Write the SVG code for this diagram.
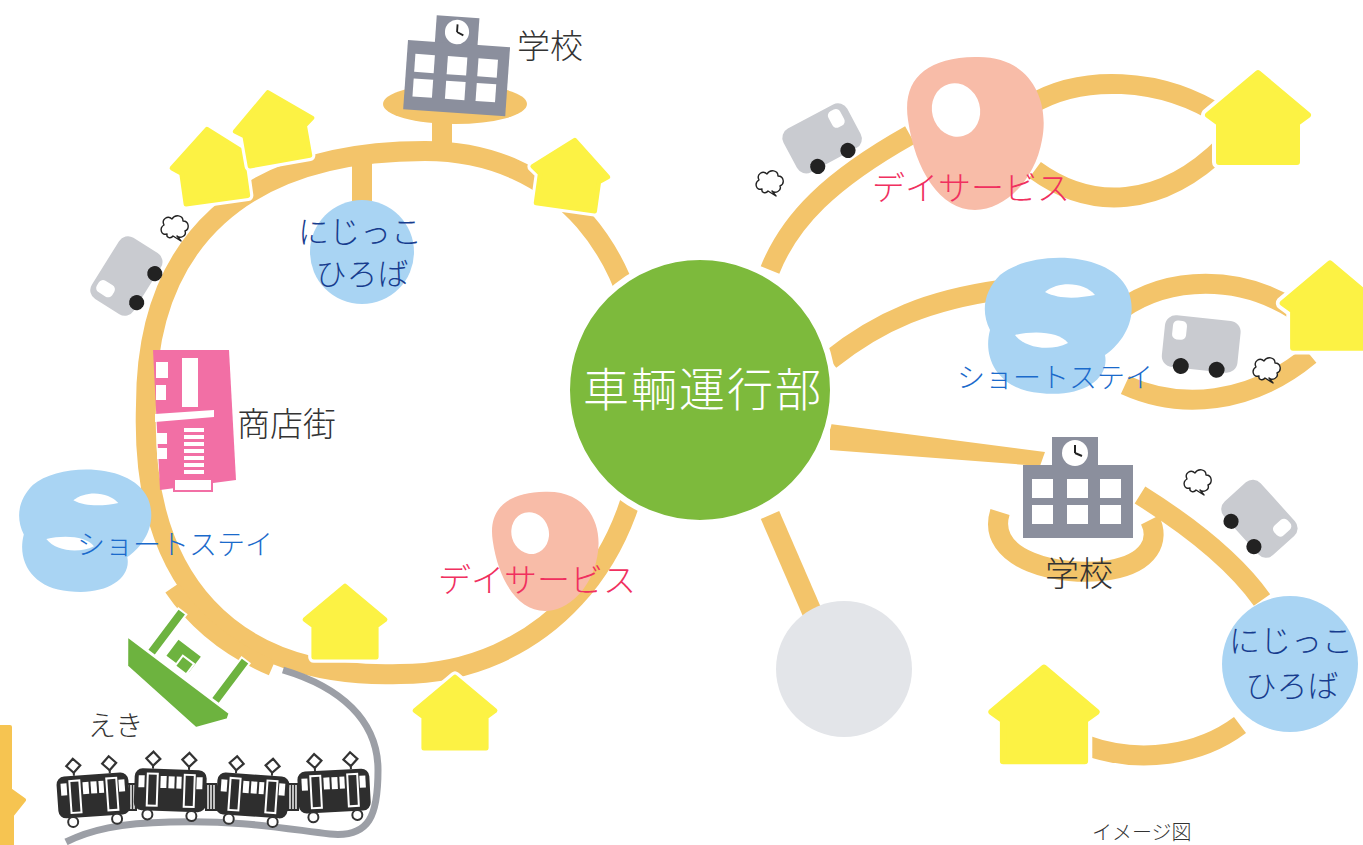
<svg xmlns="http://www.w3.org/2000/svg" width="1363" height="845" viewBox="0 0 1363 845">
<style>
.road{fill:none;stroke:#F3C46A;stroke-width:20}
.hfill{fill:#FCF244;stroke:#FCF244;stroke-width:6;stroke-linejoin:round}
.halo{fill:#fff;stroke:#fff;stroke-width:14;stroke-linejoin:round}
.van{fill:#C9CBD0}
.wheel{fill:#222}
.puff{fill:#fff;stroke:#222;stroke-width:1.4;stroke-linejoin:round}
.bldg{fill:#8B8F9D}
.win{fill:#fff}
.sblob{fill:#A9D4F3}
.pink{fill:#F8BCA8}
.txt{font-family:"Noto Sans CJK JP","Noto Sans",sans-serif;font-weight:300}
.dark{fill:#333}
.navy{fill:#173C8E}
.blue{fill:#1A6ACB}
.red{fill:#F0305F}
</style>
<defs>
  <path id="house-shape" d="M0 -45 L50 -3 L39 5 L39 44 L-39 44 L-39 5 L-50 -3 Z"/>
  <g id="house"><use href="#house-shape" class="halo"/><use href="#house-shape" class="hfill"/></g>
  <g id="van">
    <rect x="-38" y="-28" width="76" height="52" rx="11" class="van"/>
    <rect x="16" y="-23" width="14" height="19" rx="5" fill="#fff"/>
    <circle cx="-18" cy="22" r="8" class="wheel"/>
    <circle cx="18" cy="22" r="8" class="wheel"/>
  </g>
  <path id="puff" class="puff" d="M-8 6 C-14 8 -16 0 -11 -3 C-14 -9 -7 -13 -3 -9 C0 -14 8 -13 8 -7 C14 -7 15 1 10 3 C12 8 5 11 2 8 L6 13 L-2 8 C-4 11 -9 10 -8 6 Z"/>
  <g id="sblob">
    <path class="sblob" d="M-58 -50 C-28 -75 52 -75 70 -35 C82 -5 62 20 47 30 C52 55 22 73 -18 68 C-58 65 -76 35 -68 5 C-78 -15 -73 -35 -58 -50 Z"/>
    <path fill="#fff" d="M-13 -33 C2 -45 27 -42 37 -30 C22 -27 2 -25 -13 -33 Z"/>
    <path fill="#fff" d="M-43 10 C-23 5 2 7 10 18 C-8 27 -33 23 -43 10 Z"/>
  </g>
  <g id="dayblob">
    <path class="pink" d="M0 -76 C55 -78 75 -33 67 7 C60 47 30 77 0 77 C-35 77 -60 37 -67 -13 C-73 -53 -50 -75 0 -76 Z"/>
    <ellipse cx="-19" cy="-23" rx="24" ry="27" transform="rotate(-15 -19 -23)" fill="#fff"/>
  </g>
  <g id="school">
    <rect x="29" y="-28" width="46" height="30" class="bldg"/>
    <rect x="0" y="0" width="110" height="73" class="bldg"/>
    <circle cx="52" cy="-12" r="13" fill="#fff"/>
    <path d="M52 -12 L52 -20 M52 -12 L59 -9" stroke="#222" stroke-width="2" fill="none"/>
    <rect x="9" y="14" width="21" height="19" class="win"/>
    <rect x="44" y="14" width="21" height="19" class="win"/>
    <rect x="77" y="14" width="21" height="19" class="win"/>
    <rect x="9" y="40" width="21" height="19" class="win"/>
    <rect x="44" y="40" width="21" height="19" class="win"/>
    <rect x="77" y="40" width="21" height="19" class="win"/>
  </g>
  <g id="tcar">
    <line x1="18" y1="0" x2="18" y2="-4" stroke="#333" stroke-width="2"/>
    <line x1="54" y1="0" x2="54" y2="-4" stroke="#333" stroke-width="2"/>
    <polygon points="18,-17 25,-10 18,-3 11,-10" fill="#fff" stroke="#333" stroke-width="2.2"/>
    <polygon points="54,-17 61,-10 54,-3 47,-10" fill="#fff" stroke="#333" stroke-width="2.2"/>
    <rect x="0" y="0" width="72" height="42" rx="8" fill="#2E2E2E"/>
    <rect x="4" y="7" width="6" height="12" fill="#fff"/>
    <rect x="26" y="7" width="6" height="12" fill="#fff"/>
    <rect x="34" y="7" width="6" height="12" fill="#fff"/>
    <rect x="42" y="7" width="5" height="12" fill="#fff"/>
    <rect x="62" y="7" width="6" height="12" fill="#fff"/>
    <rect x="13" y="5" width="10" height="32" fill="none" stroke="#fff" stroke-width="2"/>
    <rect x="50" y="5" width="10" height="32" fill="none" stroke="#fff" stroke-width="2"/>
    <circle cx="14" cy="46" r="5" fill="#fff" stroke="#333" stroke-width="2"/>
    <circle cx="58" cy="46" r="5" fill="#fff" stroke="#333" stroke-width="2"/>
  </g>
  <g id="gang">
    <rect x="0" y="9" width="12" height="28" fill="#2E2E2E"/>
    <path d="M3 11 V35 M6 11 V35 M9 11 V35" stroke="#fff" stroke-width="1.4"/>
  </g>
</defs>

<rect width="1363" height="845" fill="#fff"/>

<!-- roads -->
<g id="connectors">
  <path class="road" d="M146 405 C146 240 245 151 425 151 C557 151 645 253 645 405 C645 560 540 674 400 674 C230 680 140 580 146 405 Z"/>
  <path d="M172 588 C195 622 230 650 272 668" fill="none" stroke="#F3C46A" stroke-width="16"/>
  <ellipse cx="455" cy="104" rx="72" ry="20" fill="#F3C46A"/>
  <path class="road" d="M442 115 V156" stroke-width="22"/>
  <path class="road" d="M362 150 V205"/>
  <path class="road" d="M770 270 C790 220 830 180 910 135" stroke-width="18"/>
  <path class="road" d="M1030 105 C1080 75 1160 75 1225 118" stroke-width="18"/>
  <path class="road" d="M1035 170 C1090 210 1160 210 1225 145" stroke-width="18"/>
  <path class="road" d="M830 360 C880 320 930 300 1000 290"/>
  <path class="road" d="M1120 310 C1170 275 1240 275 1295 310" stroke-width="18"/>
  <path class="road" d="M1125 385 C1180 410 1250 405 1310 355" stroke-width="18"/>
  <polygon points="830,424 1045,452 1040,466 830,450" fill="#F3C46A"/>
  <path class="road" d="M1000 512 C985 560 1060 578 1110 570 C1150 563 1160 540 1150 520"/>
  <path class="road" d="M1140 495 C1180 520 1230 555 1262 600" stroke-width="22"/>
  <path class="road" d="M770 515 L812 612" stroke-width="22"/>
  <path class="road" d="M1240 725 C1200 755 1140 765 1085 745" stroke-width="18"/>
  <path d="M283 670 C340 687 378 720 378 770 C378 815 370 838 330 834 C280 828 240 820 170 822 C120 823 90 830 66 842" fill="none" stroke="#9C9FA6" stroke-width="7"/>
</g>

<!-- hub -->
<g id="hub">
  <circle cx="700" cy="390" r="133" fill="#7DBA3C" stroke="#fff" stroke-width="6"/>
  <text x="703" y="406" text-anchor="middle" class="txt" font-size="46" letter-spacing="2" fill="#fff">車輌運行部</text>
</g>

<g id="gray-spot"><circle cx="844" cy="669" r="68" fill="#E3E5E9"/></g>

<!-- houses -->
<g id="houses">
  <use href="#house" transform="translate(212,165) rotate(-8) scale(0.8)"/>
  <use href="#house" transform="translate(274,127) rotate(-10) scale(0.78)"/>
  <use href="#house" transform="translate(570,174) rotate(8) scale(0.76)"/>
  <use href="#house" transform="translate(345,622) scale(0.8)"/>
  <use href="#house" transform="translate(455,713) scale(0.8)"/>
  <use href="#house" transform="translate(1258,118)"/>
  <use href="#house" transform="translate(1330,306) scale(0.95)"/>
  <use href="#house" transform="translate(1044,715) scale(1.05)"/>
  <polygon points="0,727 10,727 10,790 24,800 12,815 12,845 0,845" fill="#F6C451" stroke="#F6C451" stroke-width="4" stroke-linejoin="round"/>
</g>

<!-- schools -->
<g id="school-top">
  <use href="#school" transform="translate(408,40) rotate(4) scale(0.93,0.95)"/>
  <text x="517" y="58" class="txt dark" font-size="33">学校</text>
</g>
<g id="school-right">
  <use href="#school" transform="translate(1023,465)"/>
  <text x="1045" y="586" class="txt dark" font-size="34">学校</text>
</g>

<!-- nijikko plazas -->
<g id="nijikko-left">
  <circle cx="362" cy="252" r="52" fill="#A9D4F3"/>
  <text x="360" y="243" text-anchor="middle" class="txt navy" font-size="31">にじっこ</text>
  <text x="362" y="285" text-anchor="middle" class="txt navy" font-size="31">ひろば</text>
</g>
<g id="nijikko-right">
  <circle cx="1290" cy="664" r="68" fill="#A9D4F3"/>
  <text x="1291" y="652" text-anchor="middle" class="txt navy" font-size="31">にじっこ</text>
  <text x="1292" y="697" text-anchor="middle" class="txt navy" font-size="31">ひろば</text>
</g>

<!-- day service -->
<g id="day-top">
  <use href="#dayblob" transform="translate(975,133)"/>
  <text x="872" y="200" class="txt red" font-size="33">デイサービス</text>
</g>
<g id="day-lower">
  <use href="#dayblob" transform="translate(545,551) scale(0.78)"/>
  <text x="438" y="592" class="txt red" font-size="33">デイサービス</text>
</g>

<!-- short stay -->
<g id="short-right">
  <use href="#sblob" transform="translate(1058,325)"/>
  <text x="957" y="388" class="txt blue" font-size="28">ショートステイ</text>
</g>
<g id="short-left">
  <use href="#sblob" transform="translate(85,530) scale(0.9)"/>
  <text x="77" y="555" class="txt blue" font-size="28">ショートステイ</text>
</g>

<!-- shopping street -->
<g id="shops">
  <polygon points="153,350 229,350 236,480 160,490" fill="#F26FA5"/>
  <rect x="182" y="358" width="16" height="49" fill="#fff"/>
  <rect x="156" y="362" width="12" height="16" fill="#fff"/>
  <rect x="156" y="385" width="10" height="15" fill="#fff"/>
  <polygon points="155,414 214,410 214,417 155,422" fill="#fff"/>
  <g fill="#fff">
    <rect x="184" y="428" width="20" height="4"/>
    <rect x="184" y="435" width="20" height="4"/>
    <rect x="184" y="442" width="20" height="4"/>
    <rect x="184" y="449" width="20" height="4"/>
    <rect x="184" y="456" width="20" height="4"/>
    <rect x="184" y="463" width="20" height="4"/>
    <rect x="184" y="470" width="20" height="4"/>
    <rect x="157" y="433" width="10" height="11"/>
    <rect x="157" y="448" width="10" height="11"/>
  </g>
  <rect x="174" y="479" width="38" height="12" fill="#fff" stroke="#F26FA5" stroke-width="2"/>
  <text x="237" y="436" class="txt dark" font-size="33">商店街</text>
</g>

<!-- station and train -->
<g id="station">
  <g transform="translate(178,672) rotate(37)" fill="#6DB33F" stroke="#fff" stroke-width="2">
    <polygon points="-62,2 66,2 68,8 48,34 -44,26"/>
    <rect x="-38" y="-51" width="10" height="52"/>
    <rect x="42" y="-50" width="10" height="51"/>
    <rect x="-20" y="-27" width="30" height="22"/>
    <rect x="-6" y="-16" width="14" height="13"/>
  </g>
  <text x="88" y="736" class="txt dark" font-size="28">えき</text>
</g>
<g id="train">
  <use href="#gang" transform="translate(125,774)"/>
  <use href="#gang" transform="translate(205,774)"/>
  <use href="#gang" transform="translate(287,774)"/>
  <use href="#tcar" transform="translate(56,777) rotate(-4)"/>
  <use href="#tcar" transform="translate(135,768) rotate(2)"/>
  <use href="#tcar" transform="translate(218,772) rotate(4)"/>
  <use href="#tcar" transform="translate(297,772) rotate(-3)"/>
</g>

<!-- vehicles -->
<g id="car-left">
  <use href="#van" transform="translate(128,277) rotate(-58) scale(-0.95,0.95)"/>
  <use href="#puff" transform="translate(175,228)"/>
</g>
<g id="car-top-right">
  <use href="#van" transform="translate(823,140) rotate(-28) scale(0.95)"/>
  <use href="#puff" transform="translate(770,183)"/>
</g>
<g id="car-mid-right">
  <use href="#van" transform="translate(1201,346) rotate(6) scale(-1,1)"/>
  <use href="#puff" transform="translate(1267,370)"/>
</g>
<g id="car-low-right">
  <use href="#van" transform="translate(1258,520) rotate(48) scale(0.95)"/>
  <use href="#puff" transform="translate(1198,482)"/>
</g>

<text x="1092" y="840" class="txt dark" font-size="20">イメージ図</text>
</svg>
